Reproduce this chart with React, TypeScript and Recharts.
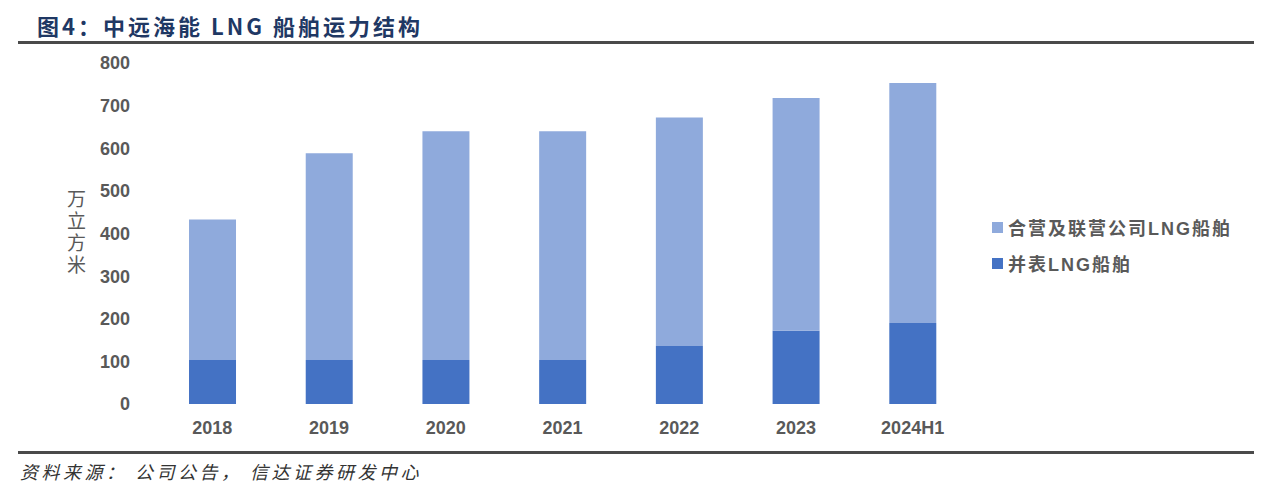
import React from 'react';
import { BarChart, Bar, XAxis, YAxis } from 'recharts';

// 万立方米
const categories = ['2018', '2019', '2020', '2021', '2022', '2023', '2024H1'];
const consolidated = [103, 103, 103, 103, 136, 172, 190];
const jointVenture = [330, 485, 537, 537, 536, 546, 563];
const yTicks = [0, 100, 200, 300, 400, 500, 600, 700, 800];

const series = [
  { key: 'jointVenture', name: '合营及联营公司LNG船舶', color: '#8FAADC' },
  { key: 'consolidated', name: '并表LNG船舶', color: '#4472C4' },
];

const FONT = '"Liberation Sans", Arial, "Noto Sans CJK SC", sans-serif';
const CJK = '"Noto Sans CJK SC", "Liberation Sans", sans-serif';
const TEXT = '#595959';

const chartData = categories.map((c, i) => ({
  name: c,
  consolidated: consolidated[i],
  jointVenture: jointVenture[i],
}));

// category boundaries for the Excel-style tick marks
const edgeTicks = [...categories.map((_, i) => i), categories.length];

export default function App() {
  return (
    <div
      style={{
        position: 'fixed',
        left: 0,
        top: 0,
        width: 1269,
        height: 492,
        background: '#fff',
        fontFamily: FONT,
      }}
    >
      <div
        style={{
          position: 'absolute',
          left: 37,
          top: 10,
          fontFamily: CJK,
          fontWeight: 700,
          fontSize: 22,
          letterSpacing: 3,
          color: '#1F3864',
          lineHeight: '30px',
          whiteSpace: 'nowrap',
        }}
      >
        图4：中远海能 LNG 船舶运力结构
      </div>
      <div style={{ position: 'absolute', left: 18, top: 41, width: 1236, height: 3, background: '#4a4a4a' }} />

      <BarChart
        width={1269}
        height={492}
        data={chartData}
        margin={{ top: 63, right: 298, left: 94, bottom: 58 }}
        barCategoryGap="30%"
        style={{ position: 'absolute', left: 0, top: 0 }}
      >
        <XAxis
          xAxisId="edges"
          type="number"
          domain={[0, categories.length]}
          ticks={edgeTicks}
          allowDataOverflow
          height={0}
          tick={false}
          tickSize={6}
          tickLine={{ stroke: '#D9D9D9' }}
          axisLine={{ stroke: '#D9D9D9', strokeWidth: 1.5 }}
        />
        <XAxis
          dataKey="name"
          height={30}
          axisLine={false}
          tickLine={false}
          tickMargin={11}
          tick={{ fill: TEXT, fontSize: 18, fontWeight: 700, fontFamily: FONT }}
          interval={0}
        />
        <YAxis
          width={60}
          domain={[0, 800]}
          ticks={yTicks}
          axisLine={false}
          tickLine={false}
          tickMargin={18}
          tick={{ fill: TEXT, fontSize: 18, fontWeight: 700, fontFamily: FONT }}
        />
        <Bar dataKey="consolidated" stackId="a" fill="#4472C4" isAnimationActive={false} />
        <Bar dataKey="jointVenture" stackId="a" fill="#8FAADC" isAnimationActive={false} />
      </BarChart>

      <div
        style={{
          position: 'absolute',
          left: 63,
          top: 189,
          writingMode: 'vertical-rl',
          fontFamily: CJK,
          fontSize: 19,
          letterSpacing: 3,
          color: TEXT,
        }}
      >
        万立方米
      </div>

      <div style={{ position: 'absolute', left: 992, top: 209 }}>
        {series.map((s) => (
          <div
            key={s.key}
            style={{ display: 'flex', alignItems: 'center', height: 36, whiteSpace: 'nowrap' }}
          >
            <div style={{ width: 11, height: 11, background: s.color, marginRight: 5 }} />
            <span style={{ fontFamily: FONT, fontWeight: 700, fontSize: 18, color: TEXT, letterSpacing: 2 }}>
              {s.name}
            </span>
          </div>
        ))}
      </div>

      <div style={{ position: 'absolute', left: 18, top: 451, width: 1236, height: 3, background: '#4a4a4a' }} />
      <div
        style={{
          position: 'absolute',
          left: 20,
          top: 457,
          fontFamily: CJK,
          fontStyle: 'italic',
          fontSize: 18,
          letterSpacing: 3.5,
          color: '#333',
          lineHeight: '28px',
          whiteSpace: 'pre',
        }}
      >
        资料来源： 公司公告， 信达证券研发中心
      </div>
    </div>
  );
}
